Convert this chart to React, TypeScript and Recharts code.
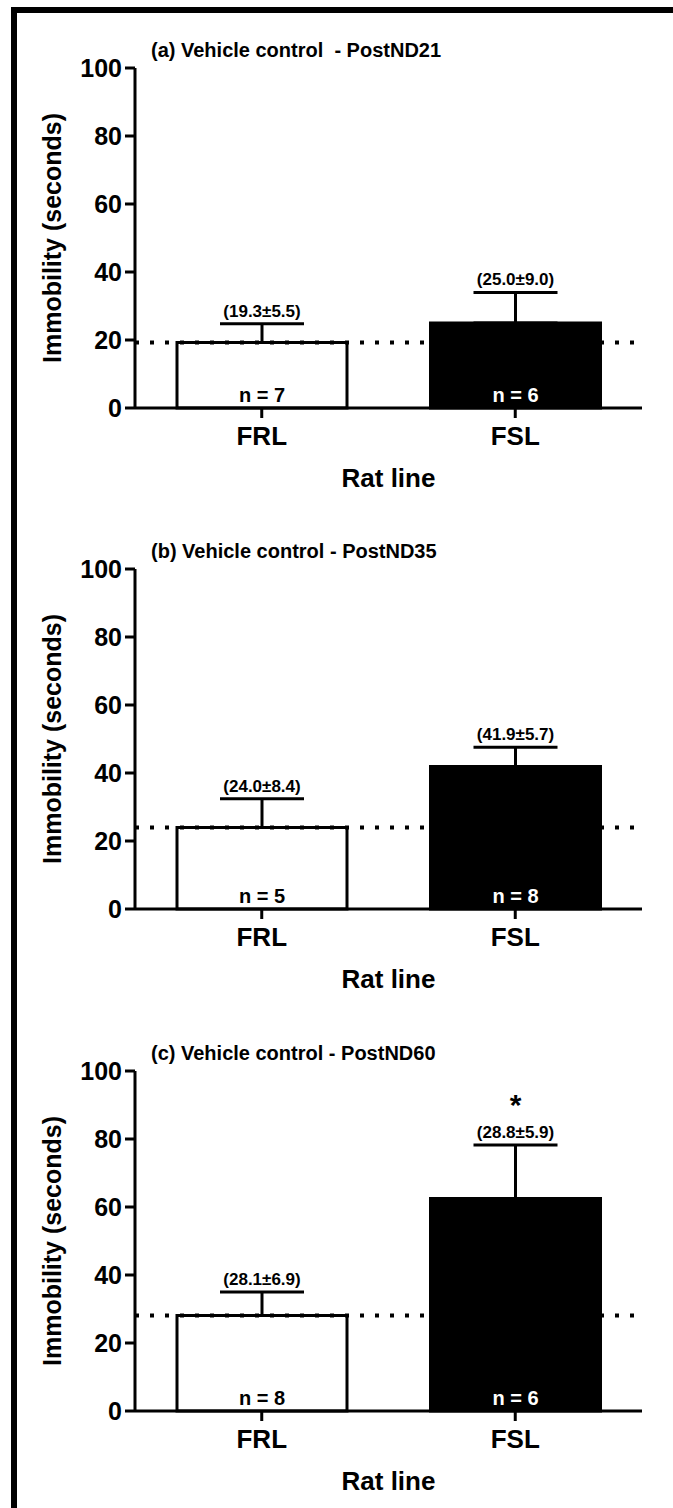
import React from "react";
import {
  Bar,
  BarChart,
  Cell,
  ErrorBar,
  LabelList,
  ReferenceLine,
  XAxis,
  YAxis,
} from "recharts";

const CATEGORIES = ["FRL", "FSL"];
const BAR_FILLS = ["#ffffff", "#000000"];
const TEXT_FILLS = ["#000000", "#ffffff"];
const Y_TICKS = [0, 20, 40, 60, 80, 100];

const TITLE_A = "(a) Vehicle control  - PostND21";
const MEAN_A = [19.3, 25.0];
const SEM_A = [5.5, 9.0];
const N_A = [7, 6];
const NOTE_A = ["(19.3±5.5)", "(25.0±9.0)"];
const STAR_A = ["", ""];

const TITLE_B = "(b) Vehicle control - PostND35";
const MEAN_B = [24.0, 41.9];
const SEM_B = [8.4, 5.7];
const N_B = [5, 8];
const NOTE_B = ["(24.0±8.4)", "(41.9±5.7)"];
const STAR_B = ["", ""];

const TITLE_C = "(c) Vehicle control - PostND60";
const MEAN_C = [28.1, 62.5];
const SEM_C = [6.9, 15.7];
const N_C = [8, 6];
const NOTE_C = ["(28.1±6.9)", "(28.8±5.9)"];
const STAR_C = ["", "*"];

const FONT = '"Liberation Sans", Arial, Helvetica, sans-serif';

type PanelProps = {
  top: number;
  title: string;
  mean: number[];
  sem: number[];
  n: number[];
  note: string[];
  star: string[];
};

function Panel({ top, title, mean, sem, n, note, star }: PanelProps) {
  const rows = CATEGORIES.map((cat, i) => ({
    cat,
    mean: mean[i],
    err: [0, sem[i]],
    n: `n = ${n[i]}`,
    note: note[i],
    star: star[i],
  }));

  const boxOf = (p: any) => {
    const vb = p.viewBox && p.viewBox.width !== undefined ? p.viewBox : p;
    return { x: vb.x, y: vb.y, width: vb.width, height: Math.abs(vb.height) };
  };
  const rowOf = (p: any, key: "note" | "n") => {
    if (typeof p.index === "number" && rows[p.index]) return p.index;
    return rows.findIndex((r) => r[key] === p.value);
  };

  // mean±SEM text sits above the cap of the error bar
  const renderNote = (p: any) => {
    const i = rowOf(p, "note");
    const r = rows[i];
    const { x, y, width, height } = boxOf(p);
    const perUnit = height / r.mean;
    const capY = y - r.err[1] * perUnit;
    const cx = x + width / 2;
    return (
      <g>
        <text x={cx} y={capY - 7} textAnchor="middle" fontSize={17} fontWeight="bold" fill="#000">
          {r.note}
        </text>
        {r.star ? (
          <text x={cx} y={capY - 30} textAnchor="middle" fontSize={30} fontWeight="bold" fill="#000">
            {r.star}
          </text>
        ) : null}
      </g>
    );
  };

  const renderN = (p: any) => {
    const i = rowOf(p, "n");
    const { x, y, width, height } = boxOf(p);
    return (
      <text
        x={x + width / 2}
        y={y + height - 6}
        textAnchor="middle"
        fontSize={20}
        fontWeight="bold"
        fill={TEXT_FILLS[i]}
      >
        {rows[i].n}
      </text>
    );
  };

  return (
    <div style={{ position: "absolute", left: 0, top, width: 673, height: 500 }}>
      <svg width={673} height={70} style={{ position: "absolute", left: 0, top: 0 }}>
        <text x={151} y={57} fontSize={20} fontWeight="bold" fill="#000" style={{ whiteSpace: "pre" }}>
          {title}
        </text>
      </svg>
      <BarChart
        width={673}
        height={500}
        data={rows}
        margin={{ top: 68, right: 31, left: 0, bottom: 12 }}
      >
        <XAxis
          dataKey="cat"
          height={80}
          tickSize={10}
          tickMargin={9}
          axisLine={{ stroke: "#000", strokeWidth: 3 }}
          tickLine={{ stroke: "#000", strokeWidth: 3 }}
          tick={{ fontSize: 26, fill: "#000", fontWeight: "bold" }}
          label={{ value: "Rat line", position: "insideBottom", offset: 1, fontSize: 26, fill: "#000", fontWeight: "bold" }}
        />
        <YAxis
          width={135}
          domain={[0, 100]}
          ticks={Y_TICKS}
          interval={0}
          tickSize={10}
          tickMargin={3}
          axisLine={{ stroke: "#000", strokeWidth: 3 }}
          tickLine={{ stroke: "#000", strokeWidth: 3 }}
          tick={{ fontSize: 25, fill: "#000", fontWeight: "bold" }}
          label={{
            value: "Immobility (seconds)",
            angle: -90,
            position: "insideLeft",
            offset: 52,
            fontSize: 25,
            fill: "#000",
            fontWeight: "bold",
            style: { textAnchor: "middle" },
          }}
        />
        <ReferenceLine y={mean[0]} stroke="#000" strokeWidth={4} strokeDasharray="4 11" />
        <Bar dataKey="mean" barSize={170} stroke="#000" strokeWidth={3} isAnimationActive={false}>
          {rows.map((r, i) => (
            <Cell key={r.cat} fill={BAR_FILLS[i]} />
          ))}
          <ErrorBar dataKey="err" width={42} stroke="#000" strokeWidth={3} direction="y" isAnimationActive={false} />
          <LabelList dataKey="note" content={renderNote} />
          <LabelList dataKey="n" content={renderN} />
        </Bar>
      </BarChart>
    </div>
  );
}

export default function App() {
  return (
    <div
      style={{
        position: "absolute",
        left: 0,
        top: 0,
        width: 673,
        height: 1508,
        overflow: "hidden",
        background: "#fff",
        fontFamily: FONT,
        fontWeight: "bold",
      }}
    >
      <div
        style={{
          position: "absolute",
          left: 11,
          top: 7,
          width: 662,
          height: 1501,
          borderLeft: "6px solid #000",
          borderTop: "6px solid #000",
        }}
      />
      <Panel top={0} title={TITLE_A} mean={MEAN_A} sem={SEM_A} n={N_A} note={NOTE_A} star={STAR_A} />
      <Panel top={501} title={TITLE_B} mean={MEAN_B} sem={SEM_B} n={N_B} note={NOTE_B} star={STAR_B} />
      <Panel top={1003} title={TITLE_C} mean={MEAN_C} sem={SEM_C} n={N_C} note={NOTE_C} star={STAR_C} />
    </div>
  );
}
